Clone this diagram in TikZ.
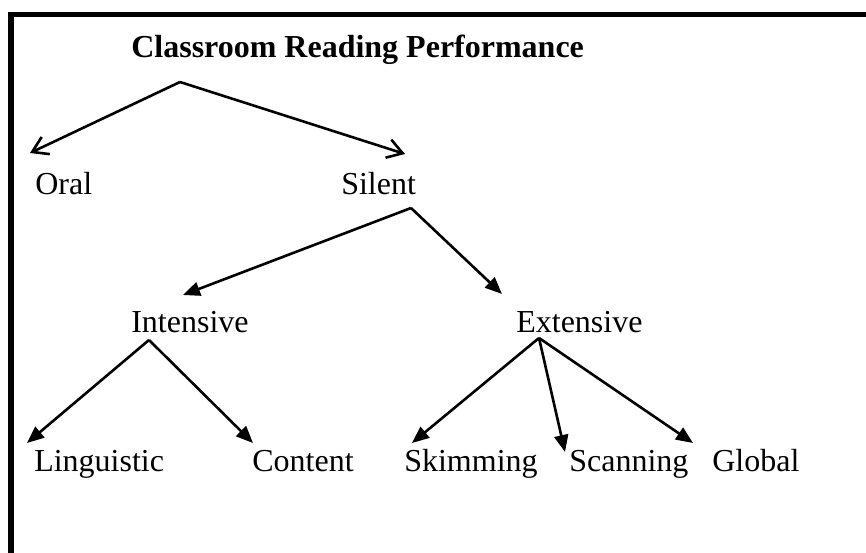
\documentclass[tikz,border=0pt]{standalone}
\usepackage{fontspec}
\setmainfont{Liberation Serif}
\usetikzlibrary{arrows.meta}

\begin{document}
\begin{tikzpicture}[x=1pt,y=-1pt,line width=2.6pt,
    open/.style={-{Straight Barb[length=15pt,width=19pt]}},
    filled/.style={-{Triangle[length=17pt,width=14pt]}},
    lbl/.style={anchor=base west,inner sep=0pt,font=\fontsize{32}{38}\selectfont}]
\useasboundingbox (0,0) rectangle (866,553);
\draw[line width=5.5pt] (11,553) -- (11,14.5) -- (866,14.5);

\node[lbl,font=\bfseries\fontsize{32}{38}\selectfont] (title) at (130,58) {Classroom Reading Performance};
\node[lbl] (oral) at (34,195) {Oral};
\node[lbl] (silent) at (340,195) {Silent};
\node[lbl] (intensive) at (130,332) {Intensive};
\node[lbl] (extensive) at (515,332) {Extensive};
\foreach \name/\x/\txt in {ling/33/Linguistic,cont/251/Content,skim/403/Skimming,scan/568/Scanning,glob/711/Global}
    \node[lbl] (\name) at (\x,471) {\txt};

% fork points under the labels
\coordinate (title-fork) at ([shift={(50,24)}]title.base west);
\coordinate (silent-fork) at ([shift={(71,13)}]silent.base west);
\coordinate (intensive-fork) at ([shift={(19,8)}]intensive.base west);
\coordinate (extensive-fork) at ([shift={(24,6)}]extensive.base west);

\foreach \tgt/\dx/\dy in {oral/-4/-42,silent/65/-41}
    \draw[open] (title-fork) -- ([shift={(\dx,\dy)}]\tgt.base west);
\foreach \tgt/\dx/\dy in {intensive/53/-37,extensive/-13/-38}
    \draw[filled] (silent-fork) -- ([shift={(\dx,\dy)}]\tgt.base west);
\foreach \tgt/\dx/\dy in {ling/-6/-28,cont/2/-28}
    \draw[filled] (intensive-fork) -- ([shift={(\dx,\dy)}]\tgt.base west);
\foreach \tgt/\dx/\dy in {skim/9/-28,scan/-3/-19,glob/-18/-28}
    \draw[filled] (extensive-fork) -- ([shift={(\dx,\dy)}]\tgt.base west);
\end{tikzpicture}
\end{document}
